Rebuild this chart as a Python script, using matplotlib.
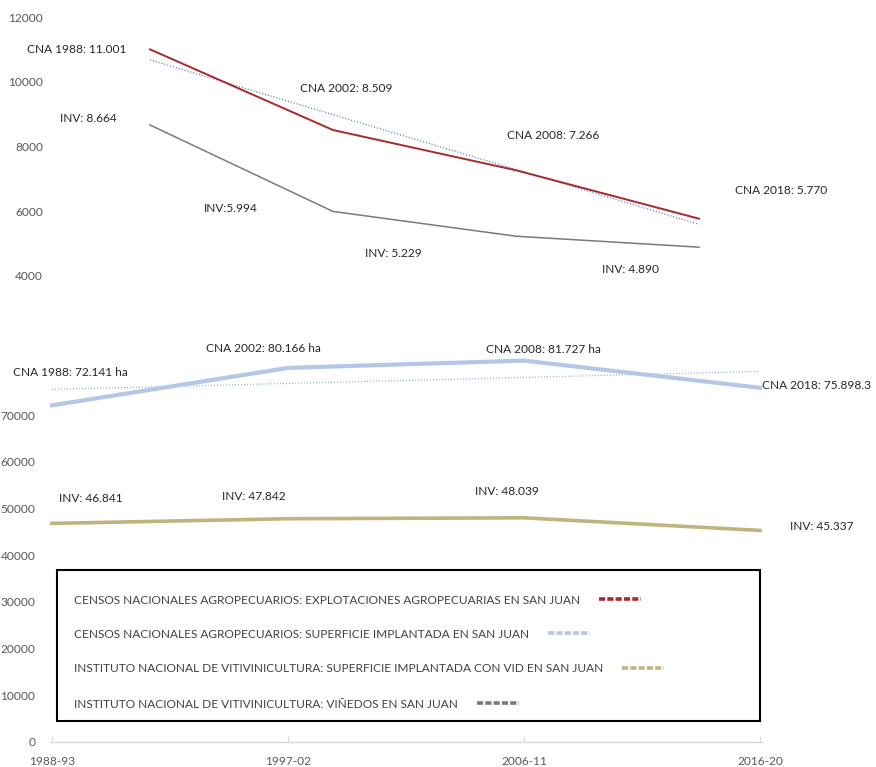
import numpy as np
import matplotlib
matplotlib.use("Agg")
import matplotlib.pyplot as plt
from matplotlib.lines import Line2D
from matplotlib.patches import Rectangle

plt.rcParams['font.family'] = ['Lato', 'DejaVu Sans']

# ---------------- data ----------------
periods = ["1988-93", "1997-02", "2006-11", "2016-20"]

explotaciones = [11001, 8509, 7266, 5770]          # CNA explotaciones agropecuarias
vinedos = [8664, 5994, 5229, 4890]                 # INV viñedos
superficie = [72141, 80166, 81727, 75898.3]        # CNA superficie implantada (ha)
superficie_vid = [46841, 47842, 48039, 45337]      # INV superficie con vid (ha)

expl_labels = ["CNA 1988: 11.001", "CNA 2002: 8.509", "CNA 2008: 7.266", "CNA 2018: 5.770"]
vin_labels = ["INV: 8.664", "INV:5.994", "INV: 5.229", "INV: 4.890"]
sup_labels = ["CNA 1988: 72.141 ha", "CNA 2002: 80.166 ha", "CNA 2008: 81.727 ha", "CNA 2018: 75.898.3"]
vid_labels = ["INV: 46.841", "INV: 47.842", "INV: 48.039", "INV: 45.337"]

top_ticks = [4000, 6000, 8000, 10000, 12000]
bottom_ticks = [0, 10000, 20000, 30000, 40000, 50000, 60000, 70000]

legend_labels = [
    "CENSOS NACIONALES AGROPECUARIOS: EXPLOTACIONES AGROPECUARIAS EN SAN JUAN",
    "CENSOS NACIONALES AGROPECUARIOS: SUPERFICIE IMPLANTADA EN SAN JUAN",
    "INSTITUTO NACIONAL DE VITIVINICULTURA: SUPERFICIE IMPLANTADA CON VID EN SAN JUAN",
    "INSTITUTO NACIONAL DE VITIVINICULTURA: VIÑEDOS EN SAN JUAN",
]

# ---------------- style ----------------
RED = "#A8292B"
GRAY = "#7A7A7A"
BLUE = "#B4C7E7"
OLIVE = "#BFB57C"
TREND_TOP = "#4472C4"
TREND_BOT = "#8FAADC"
TXT = "#262626"
TICK = "#595959"
FS = 8.6

W, H = 876, 767
fig = plt.figure(figsize=(W / 100, H / 100), dpi=100)

def fbox(x0, y0, x1, y1):
    return [x0 / W, 1 - y1 / H, (x1 - x0) / W, (y1 - y0) / H]

x = np.arange(len(periods))

# ---------------- top axes ----------------
ax1 = fig.add_axes(fbox(150, 17, 699, 276))
ax1.plot(x, explotaciones, color=RED, lw=1.4, clip_on=False, zorder=3)
ax1.plot(x, vinedos, color=GRAY, lw=1.1, clip_on=False, zorder=3)
c1 = np.polyfit(x, explotaciones, 1)
ax1.plot(x, np.polyval(c1, x), color=TREND_TOP, lw=0.9, ls=(0, (0.8, 1.6)), clip_on=False, zorder=2)
ax1.set_xlim(0, 3)
ax1.set_ylim(4000, 12000)
ax1.set_yticks(top_ticks)
ax1.set_yticklabels([str(t) for t in top_ticks])
ax1.set_xticks([])
ax1.tick_params(axis='y', length=0, pad=77, labelsize=FS, labelcolor=TICK)
for s in ax1.spines.values():
    s.set_visible(False)
ax1.patch.set_alpha(0)

expl_off = [(-73, 0), (13, 42), (37, 35), (82, 28)]
vin_off = [(-62, 7), (-102, 3), (-123, -17), (-69, -22)]
for i in range(4):
    ax1.annotate(expl_labels[i], (x[i], explotaciones[i]), xytext=expl_off[i],
                 textcoords='offset pixels', ha='center', va='center',
                 fontsize=FS, color=TXT, annotation_clip=False)
    ax1.annotate(vin_labels[i], (x[i], vinedos[i]), xytext=vin_off[i],
                 textcoords='offset pixels', ha='center', va='center',
                 fontsize=FS, color=TXT, annotation_clip=False)

# ---------------- bottom axes ----------------
ax2 = fig.add_axes(fbox(52, 322, 760, 742))
ax2.plot(x, superficie, color=BLUE, lw=3.0, clip_on=False, zorder=3)
ax2.plot(x, superficie_vid, color=OLIVE, lw=2.6, clip_on=False, zorder=3)
c2 = np.polyfit(x, superficie, 1)
ax2.plot(x, np.polyval(c2, x), color=TREND_BOT, lw=0.9, ls=(0, (0.8, 1.6)), clip_on=False, zorder=2)
ax2.set_xlim(0, 3)
ax2.set_ylim(0, 90000)
ax2.set_yticks(bottom_ticks)
ax2.set_yticklabels([str(t) for t in bottom_ticks])
ax2.set_xticks(x)
ax2.set_xticklabels(periods)
ax2.tick_params(axis='y', length=0, pad=12, labelsize=FS, labelcolor=TICK)
ax2.tick_params(axis='x', direction='in', length=4, color="#D9D9D9", pad=10,
                labelsize=FS, labelcolor=TICK)
for k in ['top', 'right', 'left']:
    ax2.spines[k].set_visible(False)
ax2.spines['bottom'].set_color("#D9D9D9")
ax2.spines['bottom'].set_linewidth(1.0)
ax2.spines['bottom'].set_bounds(-0.01, 3.01)
ax2.patch.set_alpha(0)

sup_off = [(18, 33), (-25, 19), (19, 11), (57, 2)]
vid_off = [(39, 25), (-34, 22), (-17, 26), (62, 4)]
for i in range(4):
    ax2.annotate(sup_labels[i], (x[i], superficie[i]), xytext=sup_off[i],
                 textcoords='offset pixels', ha='center', va='center',
                 fontsize=FS, color=TXT, annotation_clip=False)
    ax2.annotate(vid_labels[i], (x[i], superficie_vid[i]), xytext=vid_off[i],
                 textcoords='offset pixels', ha='center', va='center',
                 fontsize=FS, color=TXT, annotation_clip=False)

# ---------------- legend box ----------------
fig.patches.append(Rectangle((57 / W, 1 - 721 / H), (760 - 57) / W, (721 - 570) / H,
                             transform=fig.transFigure, facecolor='white',
                             edgecolor='black', lw=1.5, zorder=5))
leg_colors = [RED, BLUE, OLIVE, GRAY]
leg_y = [600, 634, 669, 704]
for lab, col, yy in zip(legend_labels, leg_colors, leg_y):
    h = Line2D([], [], color=col, lw=2.6, ls=(0, (1.7, 0.6)))
    lg = fig.legend([h], [lab], loc='center left', bbox_to_anchor=(68 / W, 1 - yy / H),
                    frameon=False, markerfirst=False, handlelength=3.5, handletextpad=1.6,
                    borderpad=0, fontsize=FS, labelcolor="#404040")
    lg.set_zorder(6)

fig.savefig("out.png", dpi=100)
